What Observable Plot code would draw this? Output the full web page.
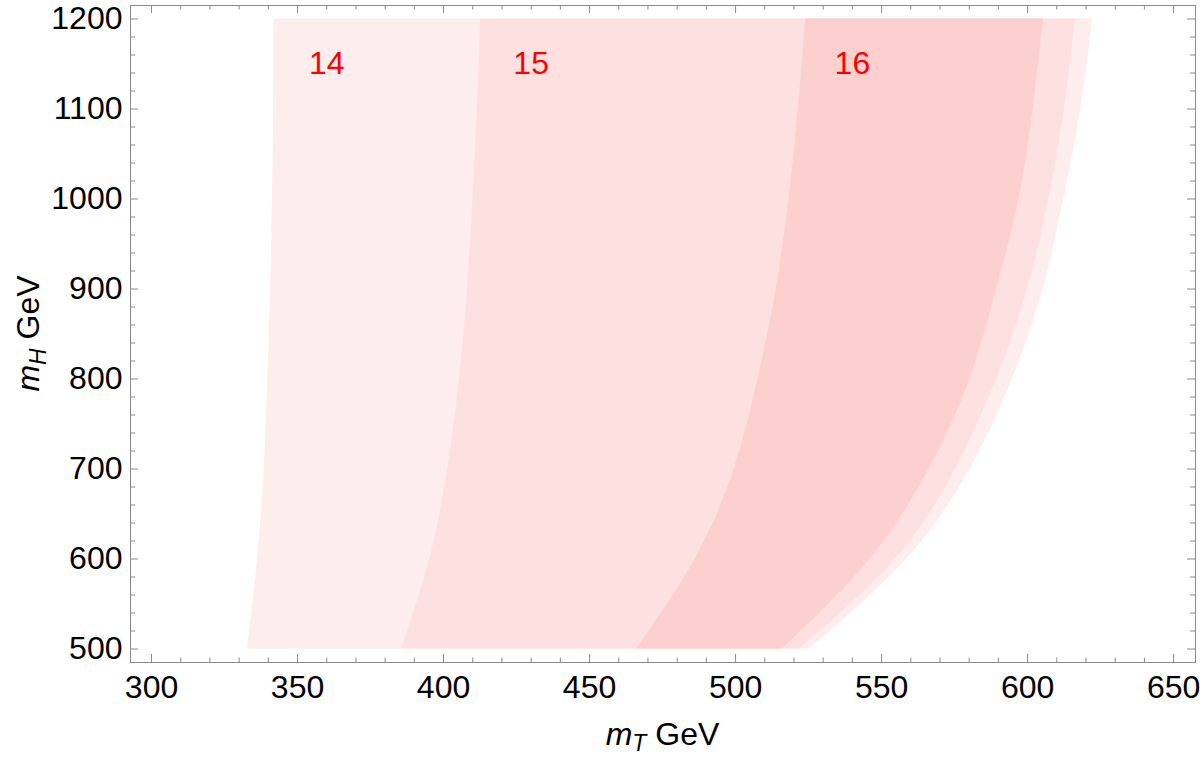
<!DOCTYPE html>
<html>
<head>
<meta charset="utf-8">
<script src="https://cdn.jsdelivr.net/npm/d3@7"></script>
<script src="https://cdn.jsdelivr.net/npm/@observablehq/plot@0.6"></script>
<style>
  html, body { margin: 0; padding: 0; background: white; }
  #chart svg { display: block; }
</style>
</head>
<body>
<div id="chart"></div>
<script>
// m_H sample levels (GeV)
const mH = [500, 600, 700, 800, 900, 1000, 1100, 1200];
// region "14" boundaries in m_T (GeV)
const r14Left  = [332.9, 336.3, 338.6, 339.8, 340.8, 341.4, 341.8, 342.0];
const r14Right = [525.3, 558.6, 580.3, 594.8, 605.3, 612.4, 618.2, 622.3];
// region "15"
const r15Left  = [385.6, 395.3, 401.4, 405.5, 408.2, 410.1, 411.6, 412.7];
const r15Right = [521.9, 554.8, 575.3, 589.4, 600.0, 607.3, 612.6, 616.4];
// region "16"
const r16Left  = [466.1, 486.2, 499.5, 507.7, 513.9, 518.3, 521.5, 524.0];
const r16Right = [516.1, 546.1, 566.3, 580.3, 589.4, 597.1, 601.9, 605.5];

const regionNames = ["14", "15", "16"];
const labelX = [360, 430, 540];
const labelY = [1150, 1150, 1150];

const xMajorTicks = [300, 350, 400, 450, 500, 550, 600, 650];
const xMinorTicks = [310, 320, 330, 340, 360, 370, 380, 390, 410, 420, 430, 440, 460, 470, 480, 490,
                     510, 520, 530, 540, 560, 570, 580, 590, 610, 620, 630, 640];
const yMajorTicks = [500, 600, 700, 800, 900, 1000, 1100, 1200];
const yMinorTicks = [520, 540, 560, 580, 620, 640, 660, 680, 720, 740, 760, 780, 820, 840, 860, 880,
                     920, 940, 960, 980, 1020, 1040, 1060, 1080, 1120, 1140, 1160, 1180];

const W = 1200, H = 757;
const mL = 130, mR = 5, mT = 5, mB = 95;
const plotW = W - mL - mR, plotH = H - mT - mB;
const gray = "#8a8a8a";

function region(left, right) {
  return mH.map((y, i) => ({mH: y, l: left[i], r: right[i]}));
}
const labels = regionNames.map((t, i) => ({t, x: labelX[i], y: labelY[i]}));

const chart = Plot.plot({
  width: W, height: H,
  marginLeft: mL, marginRight: mR, marginTop: mT, marginBottom: mB,
  x: {domain: [292.8, 657.5]},
  y: {domain: [485, 1215]},
  style: {fontFamily: "'Liberation Sans', Arial, sans-serif", fontSize: "32px", background: "white", color: "black"},
  marks: [
    Plot.areaX(region(r14Left, r14Right), {y: "mH", x1: "l", x2: "r", fill: "#fdeded", curve: "natural"}),
    Plot.areaX(region(r15Left, r15Right), {y: "mH", x1: "l", x2: "r", fill: "#fde0e0", curve: "natural"}),
    Plot.areaX(region(r16Left, r16Right), {y: "mH", x1: "l", x2: "r", fill: "#fdd0d0", curve: "natural"}),
    Plot.text(labels, {x: "x", y: "y", text: "t", fill: "#ff0000", fontSize: 32, textAnchor: "middle", lineAnchor: "middle"}),
    Plot.frame({stroke: gray, strokeWidth: 1}),
    // bottom ticks (inward)
    Plot.ruleX(xMinorTicks, {stroke: gray, insetTop: plotH - 4.5}),
    Plot.ruleX(xMajorTicks, {stroke: gray, insetTop: plotH - 8}),
    // top ticks
    Plot.ruleX(xMinorTicks, {stroke: gray, insetBottom: plotH - 4.5}),
    Plot.ruleX(xMajorTicks, {stroke: gray, insetBottom: plotH - 8}),
    // left ticks
    Plot.ruleY(yMinorTicks, {stroke: gray, insetRight: plotW - 5}),
    Plot.ruleY(yMajorTicks, {stroke: gray, insetRight: plotW - 8}),
    // right ticks
    Plot.ruleY(yMinorTicks, {stroke: gray, insetLeft: plotW - 5}),
    Plot.ruleY(yMajorTicks, {stroke: gray, insetLeft: plotW - 8}),
    Plot.axisX(xMajorTicks, {tickSize: 0, tickPadding: 13, label: null, fontSize: 32, tickFormat: d => String(d)}),
    Plot.axisY(yMajorTicks, {tickSize: 0, tickPadding: 8, label: null, fontSize: 32, tickFormat: d => String(d)})
  ]
});

const svg = d3.select(chart);
// x-axis title: m_T GeV
const xt = svg.append("text")
  .attr("x", mL + plotW / 2)
  .attr("y", 745)
  .attr("text-anchor", "middle")
  .attr("font-size", 32)
  .attr("fill", "black");
xt.append("tspan").attr("font-style", "italic").text("m");
xt.append("tspan").attr("font-style", "italic").attr("font-size", 23).attr("dy", 6).text("T");
xt.append("tspan").attr("dy", -6).text(" GeV");

// y-axis title: m_H GeV
const yt = svg.append("text")
  .attr("transform", `translate(39,${mT + plotH / 2}) rotate(-90)`)
  .attr("text-anchor", "middle")
  .attr("font-size", 32)
  .attr("fill", "black");
yt.append("tspan").attr("font-style", "italic").text("m");
yt.append("tspan").attr("font-style", "italic").attr("font-size", 23).attr("dy", 7).text("H");
yt.append("tspan").attr("dy", -7).text(" GeV");

document.getElementById("chart").appendChild(chart);
</script>
</body>
</html>
